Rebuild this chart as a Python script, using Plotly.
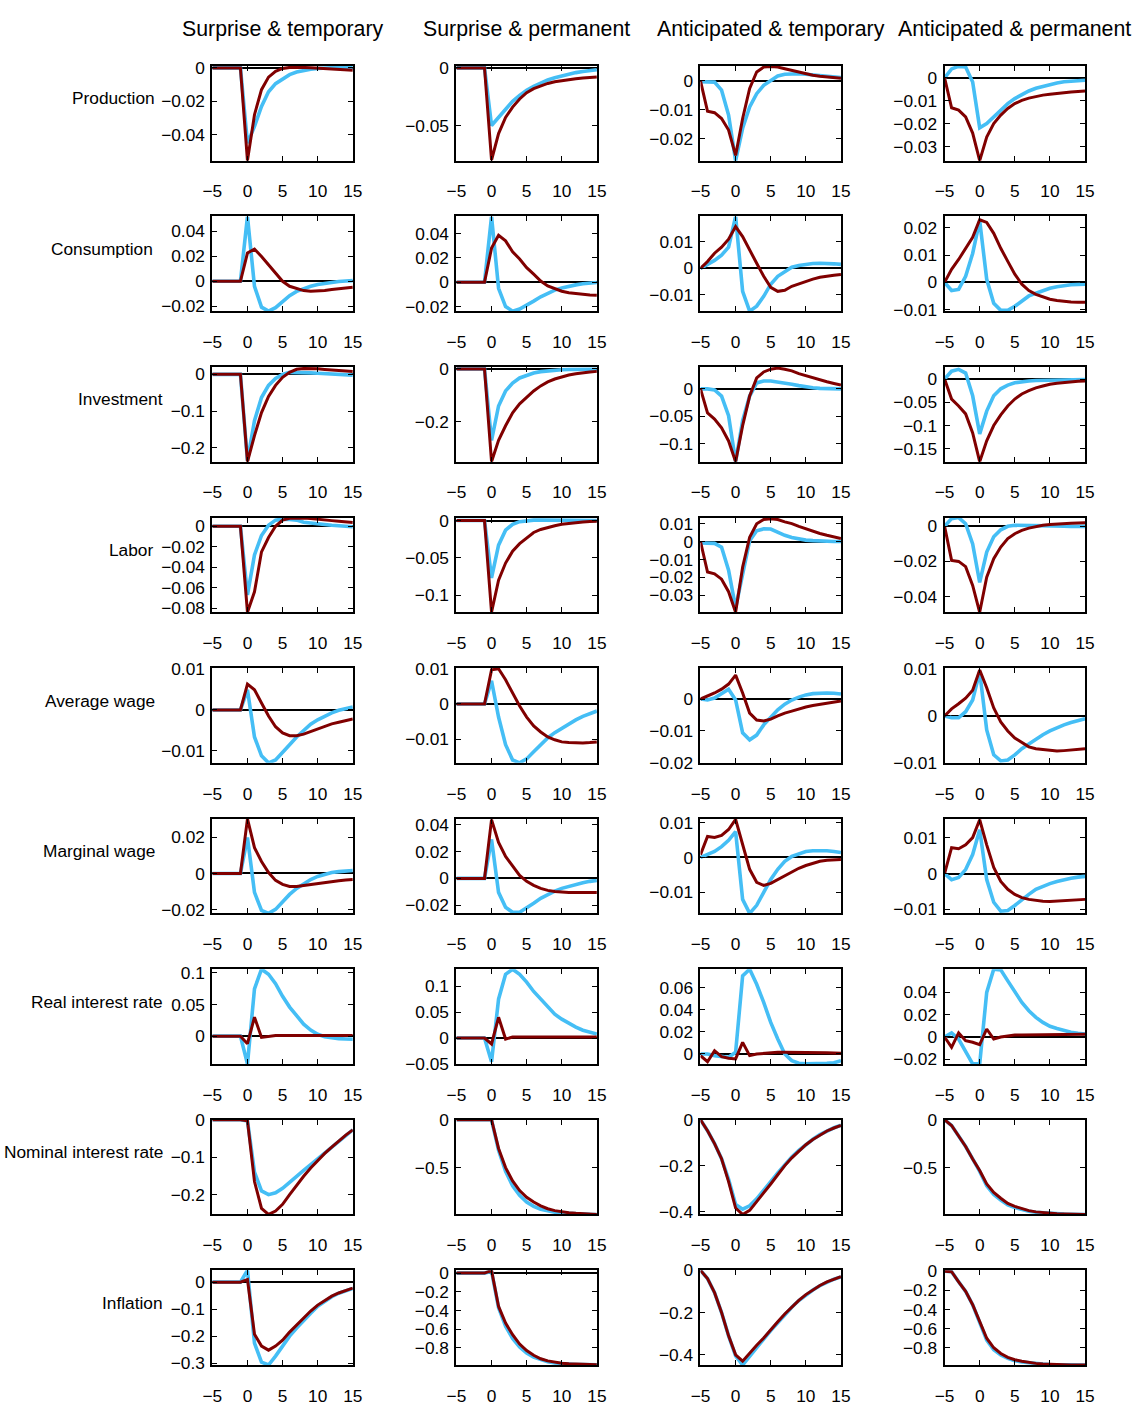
import plotly.graph_objects as go

# ---------------- data (horizon t = -5 ... 15) ----------------
t = list(range(-5, 16))

columns = ["Surprise & temporary", "Surprise & permanent",
           "Anticipated & temporary", "Anticipated & permanent"]
rows = ["Production", "Consumption", "Investment", "Labor", "Average wage",
        "Marginal wage", "Real interest rate", "Nominal interest rate", "Inflation"]

# each list holds the 4 scenarios (columns) in order
production_blue = [
    [0,0,0,0,0,-0.045,-0.035,-0.023,-0.0143,-0.0094,-0.0064,-0.004,-0.0025,-0.0015,-0.0008,-0.0003,0,0.0002,0.0003,0.0003,0.0003],
    [0,0,0,0,0,-0.05,-0.043,-0.035,-0.029,-0.024,-0.0195,-0.016,-0.013,-0.0105,-0.0085,-0.0068,-0.0053,-0.0041,-0.0031,-0.0023,-0.0016],
    [-0.0003,-0.0003,-0.0004,-0.0032,-0.0118,-0.0276,-0.0164,-0.009,-0.0044,-0.0015,0.0002,0.0017,0.0023,0.0025,0.0025,0.0023,0.0021,0.0018,0.0016,0.0014,0.0012],
    [0,0.0039,0.005,0.0047,-0.0018,-0.0217,-0.0199,-0.017,-0.0141,-0.0112,-0.009,-0.0072,-0.0057,-0.0045,-0.0036,-0.0028,-0.0022,-0.0017,-0.0014,-0.0012,-0.001],
]
production_red = [
    [0,0,0,0,0,-0.0555,-0.028,-0.013,-0.0055,-0.002,-0.0003,0.0003,0.0004,0.0003,0.0001,-0.0002,-0.0005,-0.0008,-0.001,-0.0012,-0.0014],
    [0,0,0,0,0,-0.080,-0.057,-0.043,-0.034,-0.027,-0.0215,-0.018,-0.0155,-0.0135,-0.012,-0.011,-0.0102,-0.0095,-0.0088,-0.0083,-0.0079],
    [0,-0.0105,-0.011,-0.013,-0.017,-0.0258,-0.013,-0.0026,0.0031,0.0048,0.005,0.0048,0.0042,0.0036,0.003,0.0025,0.002,0.0016,0.0013,0.0011,0.0009],
    [0,-0.013,-0.014,-0.017,-0.024,-0.036,-0.0257,-0.0199,-0.0162,-0.0133,-0.0112,-0.0098,-0.0088,-0.008,-0.0075,-0.0071,-0.0067,-0.0064,-0.0061,-0.0059,-0.0057],
]
consumption_blue = [
    [0,0,0,0,0,0.0516,-0.004,-0.0206,-0.0238,-0.021,-0.016,-0.0114,-0.008,-0.0058,-0.004,-0.0026,-0.0016,-0.0008,-0.0002,0.0002,0.0005],
    [0,0,0,0,0,0.054,-0.005,-0.02,-0.0238,-0.022,-0.019,-0.0155,-0.012,-0.009,-0.0065,-0.0047,-0.0033,-0.0022,-0.0013,-0.0007,-0.0003],
    [0,0.0015,0.003,0.005,0.008,0.0196,-0.0087,-0.0162,-0.0143,-0.0106,-0.006,-0.003,-0.0011,0.0004,0.0011,0.0015,0.0018,0.0019,0.0019,0.0017,0.0015],
    [0,-0.003,-0.0026,0.0022,0.0106,0.0227,0.0011,-0.0077,-0.0103,-0.0103,-0.0088,-0.007,-0.005,-0.004,-0.003,-0.0022,-0.0016,-0.0011,-0.0009,-0.0008,-0.0007],
]
consumption_red = [
    [0,0,0,0,0,0.0225,0.0256,0.0198,0.0132,0.0066,0,-0.004,-0.006,-0.0074,-0.0079,-0.0079,-0.0074,-0.0066,-0.0059,-0.0053,-0.0048],
    [0,0,0,0,0,0.028,0.0385,0.034,0.025,0.019,0.012,0.0066,0.001,-0.003,-0.0055,-0.0074,-0.0087,-0.0095,-0.0101,-0.0105,-0.0107],
    [0,0.0026,0.0057,0.008,0.011,0.0158,0.012,0.0072,0.0019,-0.003,-0.0072,-0.0087,-0.0083,-0.0068,-0.0058,-0.0049,-0.0041,-0.0034,-0.0029,-0.0026,-0.0023],
    [0,0.0048,0.0084,0.0125,0.0165,0.023,0.022,0.018,0.0125,0.0077,0.003,-0.0007,-0.003,-0.0044,-0.0054,-0.0062,-0.0067,-0.007,-0.0072,-0.0073,-0.0073],
]
investment_blue = [
    [0,0,0,0,0,-0.235,-0.126,-0.063,-0.03,-0.011,0,0.0055,0.0055,0.005,0.004,0.003,0.002,0.001,0,-0.001,-0.002],
    [0,0,0,0,0,-0.27,-0.14,-0.083,-0.053,-0.034,-0.023,-0.015,-0.01,-0.007,-0.0045,-0.003,-0.0022,-0.0017,-0.0013,-0.0011,-0.001],
    [0,0,-0.002,-0.013,-0.049,-0.133,-0.058,-0.013,0.011,0.0145,0.0145,0.013,0.011,0.0085,0.006,0.0036,0.0022,0.001,0.0005,0.0002,0],
    [0,0.017,0.021,0.013,-0.036,-0.118,-0.069,-0.036,-0.021,-0.013,-0.008,-0.0055,-0.004,-0.003,-0.0025,-0.002,-0.0017,-0.0015,-0.0013,-0.0011,-0.001],
]
investment_red = [
    [0,0,0,0,0,-0.238,-0.167,-0.104,-0.06,-0.03,-0.008,0.0055,0.0137,0.016,0.016,0.015,0.0135,0.012,0.0105,0.009,0.008],
    [0,0,0,0,0,-0.351,-0.27,-0.215,-0.166,-0.132,-0.106,-0.083,-0.064,-0.049,-0.038,-0.03,-0.023,-0.018,-0.014,-0.011,-0.009],
    [0,-0.044,-0.055,-0.071,-0.095,-0.133,-0.067,-0.013,0.02,0.031,0.036,0.038,0.036,0.033,0.028,0.024,0.02,0.016,0.013,0.01,0.007],
    [0,-0.043,-0.058,-0.075,-0.116,-0.178,-0.133,-0.1,-0.077,-0.058,-0.043,-0.032,-0.025,-0.019,-0.015,-0.011,-0.009,-0.007,-0.0055,-0.0045,-0.004],
]
labor_blue = [
    [0,0,0,0,0,-0.067,-0.028,-0.009,0.001,0.006,0.007,0.0066,0.006,0.004,0.003,0.0025,0.0018,0.001,0.0004,0,-0.0005],
    [0,0,0,0,0,-0.077,-0.033,-0.013,-0.005,-0.0015,0,0.0005,0.0005,0.0004,0.0003,0.0002,0.0001,0,0,0,0],
    [-0.0008,-0.0008,-0.001,-0.0032,-0.016,-0.037,-0.017,0.0005,0.006,0.0071,0.007,0.005,0.0035,0.0023,0.0014,0.0008,0.0005,0.0002,0.0001,0,0],
    [0,0.0044,0.005,0.0015,-0.01,-0.032,-0.0147,-0.006,-0.002,0,0.0006,0.0006,0.0005,0.0004,0.0003,0.0003,0.0002,0.0001,0,0,0],
]
labor_red = [
    [0,0,0,0,0,-0.084,-0.064,-0.025,-0.011,0,0.006,0.0078,0.008,0.008,0.0075,0.0066,0.006,0.0055,0.0048,0.0042,0.0036],
    [0,0,0,0,0,-0.123,-0.08,-0.057,-0.041,-0.031,-0.023,-0.016,-0.012,-0.0093,-0.007,-0.005,-0.0038,-0.0027,-0.0019,-0.0014,-0.001],
    [0,-0.017,-0.018,-0.021,-0.028,-0.0395,-0.0143,0.0024,0.0099,0.0123,0.0127,0.0123,0.011,0.01,0.0085,0.0071,0.0058,0.0045,0.0035,0.0025,0.0017],
    [0,-0.0194,-0.02,-0.023,-0.0337,-0.049,-0.029,-0.0185,-0.0118,-0.007,-0.0042,-0.0023,-0.001,0,0.0006,0.001,0.0014,0.0017,0.0018,0.0019,0.002],
]
avgwage_blue = [
    [0,0,0,0,0,0.0049,-0.0066,-0.0112,-0.0129,-0.0122,-0.0105,-0.0085,-0.0066,-0.0049,-0.0035,-0.0024,-0.0015,-0.0007,-0.0001,0.0004,0.0007],
    [0,0,0,0,0,0.0065,-0.0037,-0.0115,-0.0158,-0.0166,-0.0155,-0.0135,-0.0115,-0.0096,-0.0081,-0.0068,-0.0056,-0.0045,-0.0035,-0.0027,-0.002],
    [0,-0.0003,0.0003,0.0016,0.0031,-0.0003,-0.0106,-0.0128,-0.0113,-0.0081,-0.0056,-0.0034,-0.0016,-0.0003,0.0006,0.0013,0.0017,0.0019,0.0019,0.0018,0.0016],
    [0,-0.0004,-0.0004,0.0009,0.0034,0.0094,-0.003,-0.0083,-0.0096,-0.0094,-0.0083,-0.007,-0.006,-0.0049,-0.004,-0.0032,-0.0025,-0.0019,-0.0014,-0.001,-0.0006],
]
avgwage_red = [
    [0,0,0,0,0,0.0063,0.0049,0.0017,-0.0015,-0.0041,-0.0056,-0.0063,-0.0063,-0.0059,-0.0053,-0.0046,-0.004,-0.0034,-0.003,-0.0026,-0.0022],
    [0,0,0,0,0,0.0096,0.0099,0.0068,0.0031,-0.0006,-0.0037,-0.0062,-0.0079,-0.0093,-0.0101,-0.0107,-0.0109,-0.011,-0.011,-0.0109,-0.0107],
    [0,0.0009,0.0019,0.0031,0.0047,0.0075,0.0019,-0.0044,-0.0066,-0.0069,-0.0063,-0.0053,-0.0044,-0.0038,-0.0031,-0.0025,-0.002,-0.0016,-0.0012,-0.0009,-0.0006],
    [0,0.0015,0.0026,0.0038,0.0055,0.0098,0.006,0.0017,-0.0013,-0.0032,-0.0047,-0.0057,-0.0066,-0.007,-0.0072,-0.0074,-0.0075,-0.0074,-0.0073,-0.0071,-0.007],
]
margwage_blue = [
    [0,0,0,0,0,0.0197,-0.0104,-0.0203,-0.0219,-0.0197,-0.0153,-0.0115,-0.0082,-0.0055,-0.0033,-0.0016,-0.0004,0.0005,0.001,0.0014,0.0016],
    [0,0,0,0,0,0.029,-0.0104,-0.0215,-0.0252,-0.0252,-0.0222,-0.0185,-0.0148,-0.0119,-0.0095,-0.0074,-0.0058,-0.0044,-0.0032,-0.0022,-0.0015],
    [0,0.0009,0.0017,0.0031,0.0049,0.0074,-0.012,-0.016,-0.0137,-0.01,-0.0063,-0.0034,-0.0011,0.0003,0.0011,0.0017,0.0019,0.002,0.0019,0.0017,0.0014],
    [0,-0.0017,-0.0011,0.0011,0.0053,0.0122,-0.0017,-0.008,-0.0105,-0.0103,-0.0089,-0.0072,-0.0058,-0.0044,-0.0035,-0.0028,-0.0022,-0.0017,-0.0013,-0.001,-0.0008],
]
margwage_red = [
    [0,0,0,0,0,0.030,0.0142,0.0066,0.0005,-0.0038,-0.006,-0.0071,-0.0071,-0.0066,-0.006,-0.0055,-0.005,-0.0044,-0.004,-0.0036,-0.0033],
    [0,0,0,0,0,0.0437,0.0267,0.0163,0.0089,0.0022,-0.0022,-0.0052,-0.0074,-0.0089,-0.0098,-0.0104,-0.0105,-0.0105,-0.0104,-0.0104,-0.0104],
    [0.0008,0.006,0.0057,0.0063,0.008,0.0109,0.0037,-0.0034,-0.0071,-0.008,-0.0074,-0.0063,-0.0051,-0.004,-0.0031,-0.0023,-0.0017,-0.0011,-0.0008,-0.0007,-0.0006],
    [0,0.0072,0.0069,0.008,0.01,0.015,0.008,0.0017,-0.0022,-0.0044,-0.0058,-0.0067,-0.0072,-0.0075,-0.0077,-0.0078,-0.0077,-0.0075,-0.0074,-0.0073,-0.0072],
]
realrate_blue = [
    [0,0,0,0,0,-0.044,0.075,0.106,0.098,0.083,0.063,0.046,0.032,0.019,0.0095,0.003,-0.001,-0.003,-0.004,-0.0045,-0.005],
    [0,0,0,0,0,-0.046,0.075,0.123,0.133,0.123,0.108,0.09,0.075,0.06,0.046,0.0365,0.028,0.021,0.015,0.011,0.0077],
    [0,0,-0.0015,-0.0024,-0.003,0.0015,0.0706,0.0766,0.063,0.0466,0.0285,0.0135,0,-0.006,-0.0084,-0.009,-0.009,-0.009,-0.0085,-0.008,-0.006],
    [0,0.0036,-0.002,-0.0136,-0.024,-0.024,0.0397,0.0604,0.0598,0.050,0.0397,0.0308,0.0234,0.0175,0.013,0.0095,0.0075,0.0056,0.0043,0.0034,0.0027],
]
realrate_red = [
    [0,0,0,0,0,-0.012,0.03,-0.002,0,0.001,0.001,0.001,0.001,0.001,0.001,0.001,0.001,0.001,0.001,0.001,0.001],
    [0,0,0,0,0,-0.0115,0.04,-0.002,0.002,0.002,0.002,0.002,0.002,0.002,0.002,0.002,0.002,0.002,0.002,0.002,0.002],
    [-0.0015,-0.007,0.003,-0.0024,-0.0039,-0.0045,0.0105,-0.0015,0,0.0006,0.0015,0.0015,0.0015,0.0015,0.0015,0.0015,0.0014,0.0012,0.001,0.0008,0.0006],
    [0,-0.0092,0.0036,-0.0033,-0.0047,-0.0068,0.0071,-0.0018,0,0.0009,0.0018,0.0018,0.0018,0.0018,0.0019,0.002,0.0021,0.0022,0.0023,0.0023,0.0024],
]
nominal_blue = [
    [0,0,0,0,0,-0.003,-0.14,-0.19,-0.2,-0.195,-0.183,-0.167,-0.15,-0.135,-0.12,-0.104,-0.088,-0.072,-0.056,-0.041,-0.027],
    [0,0,0,0,0,0,-0.32,-0.54,-0.69,-0.79,-0.86,-0.905,-0.935,-0.955,-0.967,-0.975,-0.98,-0.984,-0.987,-0.989,-0.99],
    [0,-0.048,-0.104,-0.17,-0.26,-0.37,-0.39,-0.375,-0.345,-0.31,-0.27,-0.232,-0.195,-0.163,-0.134,-0.108,-0.085,-0.065,-0.048,-0.035,-0.024],
    [0,-0.06,-0.17,-0.28,-0.41,-0.54,-0.69,-0.78,-0.84,-0.89,-0.918,-0.94,-0.956,-0.967,-0.974,-0.979,-0.983,-0.986,-0.988,-0.989,-0.99],
]
nominal_red = [
    [0,0,0,0,0,-0.003,-0.165,-0.237,-0.253,-0.244,-0.226,-0.2,-0.175,-0.151,-0.129,-0.109,-0.09,-0.073,-0.056,-0.041,-0.027],
    [0,0,0,0,0,0,-0.3,-0.5,-0.64,-0.74,-0.81,-0.86,-0.9,-0.93,-0.95,-0.963,-0.972,-0.978,-0.983,-0.987,-0.99],
    [0,-0.048,-0.104,-0.17,-0.27,-0.385,-0.413,-0.395,-0.357,-0.32,-0.28,-0.24,-0.2,-0.166,-0.136,-0.109,-0.086,-0.066,-0.049,-0.036,-0.025],
    [0,-0.06,-0.17,-0.28,-0.41,-0.53,-0.67,-0.76,-0.82,-0.875,-0.905,-0.93,-0.95,-0.963,-0.971,-0.978,-0.982,-0.985,-0.987,-0.989,-0.99],
]
inflation_blue = [
    [0,0,0,0,0,0.044,-0.226,-0.296,-0.307,-0.274,-0.237,-0.2,-0.17,-0.141,-0.115,-0.089,-0.07,-0.054,-0.041,-0.031,-0.023],
    [0,0,0,0,0,0.02,-0.37,-0.57,-0.7,-0.79,-0.855,-0.9,-0.93,-0.95,-0.962,-0.97,-0.975,-0.978,-0.98,-0.981,-0.982],
    [0,-0.039,-0.106,-0.2,-0.31,-0.405,-0.448,-0.405,-0.365,-0.325,-0.285,-0.247,-0.21,-0.175,-0.143,-0.116,-0.093,-0.073,-0.056,-0.042,-0.031],
    [0,-0.005,-0.11,-0.21,-0.35,-0.54,-0.72,-0.82,-0.875,-0.91,-0.935,-0.948,-0.958,-0.966,-0.971,-0.975,-0.977,-0.978,-0.979,-0.98,-0.98],
]
inflation_red = [
    [0,0,0,0,0,0.01,-0.193,-0.237,-0.252,-0.237,-0.215,-0.185,-0.159,-0.133,-0.107,-0.085,-0.067,-0.052,-0.04,-0.03,-0.022],
    [0,0,0,0,0,0.028,-0.357,-0.535,-0.66,-0.76,-0.83,-0.88,-0.917,-0.94,-0.955,-0.965,-0.971,-0.975,-0.978,-0.98,-0.981],
    [0,-0.039,-0.106,-0.2,-0.31,-0.4,-0.43,-0.39,-0.355,-0.32,-0.28,-0.243,-0.207,-0.173,-0.142,-0.115,-0.092,-0.072,-0.055,-0.041,-0.03],
    [0,-0.005,-0.11,-0.21,-0.35,-0.53,-0.7,-0.8,-0.86,-0.9,-0.925,-0.94,-0.955,-0.963,-0.969,-0.973,-0.976,-0.978,-0.979,-0.98,-0.98],
]

blue_series = [production_blue, consumption_blue, investment_blue, labor_blue, avgwage_blue,
               margwage_blue, realrate_blue, nominal_blue, inflation_blue]
red_series = [production_red, consumption_red, investment_red, labor_red, avgwage_red,
              margwage_red, realrate_red, nominal_red, inflation_red]

# y-axis limits and tick values per panel (row by row, 4 columns)
y_ranges = [
    [[-0.0555, 0.0012], [-0.0805, 0.0017], [-0.0276, 0.0052], [-0.036, 0.0052]],
    [[-0.0238, 0.0516], [-0.0238, 0.054], [-0.0162, 0.0196], [-0.0106, 0.0242]],
    [[-0.238, 0.02], [-0.351, 0.0075], [-0.133, 0.04], [-0.178, 0.026]],
    [[-0.084, 0.0085], [-0.123, 0.004], [-0.0395, 0.0134], [-0.049, 0.005]],
    [[-0.0129, 0.0102], [-0.0166, 0.0101], [-0.0200, 0.0097], [-0.0100, 0.0102]],
    [[-0.0219, 0.0301], [-0.026, 0.0444], [-0.016, 0.0111], [-0.0111, 0.0153]],
    [[-0.044, 0.106], [-0.05, 0.133], [-0.009, 0.0766], [-0.024, 0.0604]],
    [[-0.253, 0.0], [-0.99, 0.0], [-0.413, 0.0], [-0.99, 0.0]],
    [[-0.307, 0.044], [-0.984, 0.03], [-0.448, 0.0], [-0.98, 0.01]],
]
y_ticks = [
    [[-0.04, -0.02, 0], [-0.05, 0], [-0.02, -0.01, 0], [-0.03, -0.02, -0.01, 0]],
    [[-0.02, 0, 0.02, 0.04], [-0.02, 0, 0.02, 0.04], [-0.01, 0, 0.01], [-0.01, 0, 0.01, 0.02]],
    [[-0.2, -0.1, 0], [-0.2, 0], [-0.1, -0.05, 0], [-0.15, -0.1, -0.05, 0]],
    [[-0.08, -0.06, -0.04, -0.02, 0], [-0.1, -0.05, 0], [-0.03, -0.02, -0.01, 0, 0.01], [-0.04, -0.02, 0]],
    [[-0.01, 0, 0.01], [-0.01, 0, 0.01], [-0.02, -0.01, 0, 0.01], [-0.01, 0, 0.01]],
    [[-0.02, 0, 0.02], [-0.02, 0, 0.02, 0.04], [-0.01, 0, 0.01], [-0.01, 0, 0.01]],
    [[0, 0.05, 0.1], [-0.05, 0, 0.05, 0.1], [0, 0.02, 0.04, 0.06], [-0.02, 0, 0.02, 0.04]],
    [[-0.2, -0.1, 0], [-0.5, 0], [-0.4, -0.2, 0], [-0.5, 0]],
    [[-0.3, -0.2, -0.1, 0], [-0.8, -0.6, -0.4, -0.2, 0], [-0.4, -0.2, 0], [-0.8, -0.6, -0.4, -0.2, 0]],
]
x_ticks = [-5, 0, 5, 10, 15]

# ---------------- layout geometry ----------------
# target positions are given in screenshot pixels; the page is captured with its
# 8px body margin and scaled to the window, so map target -> figure pixels.
W, H = 1134, 1407
PAD = 8
SX = (W + 2 * PAD) / W
SY = (H + 2 * PAD) / H
col_left = [211, 456, 701, 946]
col_w = 141
row_top0, row_step, row_h = 64, 151, 95
row_label_right = [155, 153, 163, 153, 155, 155, 163, 163, 163]

def px_x(x):
    return (x * SX - PAD) / W

def px_y(y):
    return 1 - (y * SY - PAD) / H

FONT = "Noto Sans Condensed, Liberation Sans Narrow, Arial Narrow, Liberation Sans, Arial, sans-serif"
BLUE = "#45BEF5"
RED = "#800000"

fig = go.Figure()
layout = dict(width=W, height=H, margin=dict(l=0, r=0, t=0, b=0), autosize=False,
              showlegend=False, paper_bgcolor="white", plot_bgcolor="white",
              font=dict(family=FONT, size=17.3, color="black"))
annotations = []

for r in range(9):
    top = row_top0 + r * row_step
    for c in range(4):
        k = r * 4 + c + 1
        sfx = "" if k == 1 else str(k)
        left = col_left[c]
        xd = [px_x(left), px_x(left + col_w)]
        yd = [px_y(top + row_h), px_y(top)]
        common = dict(showline=True, linecolor="black", linewidth=2, mirror="ticks",
                      ticks="inside", ticklen=5, tickwidth=1, tickcolor="black",
                      showgrid=False, tickfont=dict(family=FONT, size=17.3, color="black"))
        layout["xaxis" + sfx] = dict(domain=xd, anchor="y" + sfx, range=[-5, 15],
                                     tickvals=x_ticks, zeroline=False,
                                     ticklabelstandoff=14, **common)
        layout["yaxis" + sfx] = dict(domain=yd, anchor="x" + sfx, range=y_ranges[r][c],
                                     tickvals=y_ticks[r][c], zeroline=True,
                                     zerolinecolor="black", zerolinewidth=2,
                                     ticklabelstandoff=2, **common)
        fig.add_trace(go.Scatter(x=t, y=blue_series[r][c], mode="lines",
                                 xaxis="x" + sfx, yaxis="y" + sfx,
                                 line=dict(color=BLUE, width=3.6)))
        fig.add_trace(go.Scatter(x=t, y=red_series[r][c], mode="lines",
                                 xaxis="x" + sfx, yaxis="y" + sfx,
                                 line=dict(color=RED, width=3)))
    annotations.append(dict(text=rows[r], xref="paper", yref="paper",
                            x=px_x(row_label_right[r]), y=px_y(top + row_h / 2 - 15),
                            xanchor="right", yanchor="middle", showarrow=False,
                            font=dict(family=FONT, size=17.3, color="black")))

for c in range(4):
    annotations.append(dict(text=columns[c], xref="paper", yref="paper",
                            x=px_x(col_left[c] + col_w / 2), y=px_y(27),
                            xanchor="center", yanchor="middle", showarrow=False,
                            font=dict(family=FONT, size=21.3, color="black")))

layout["annotations"] = annotations
fig.update_layout(**layout)
fig.write_html("out.html")
